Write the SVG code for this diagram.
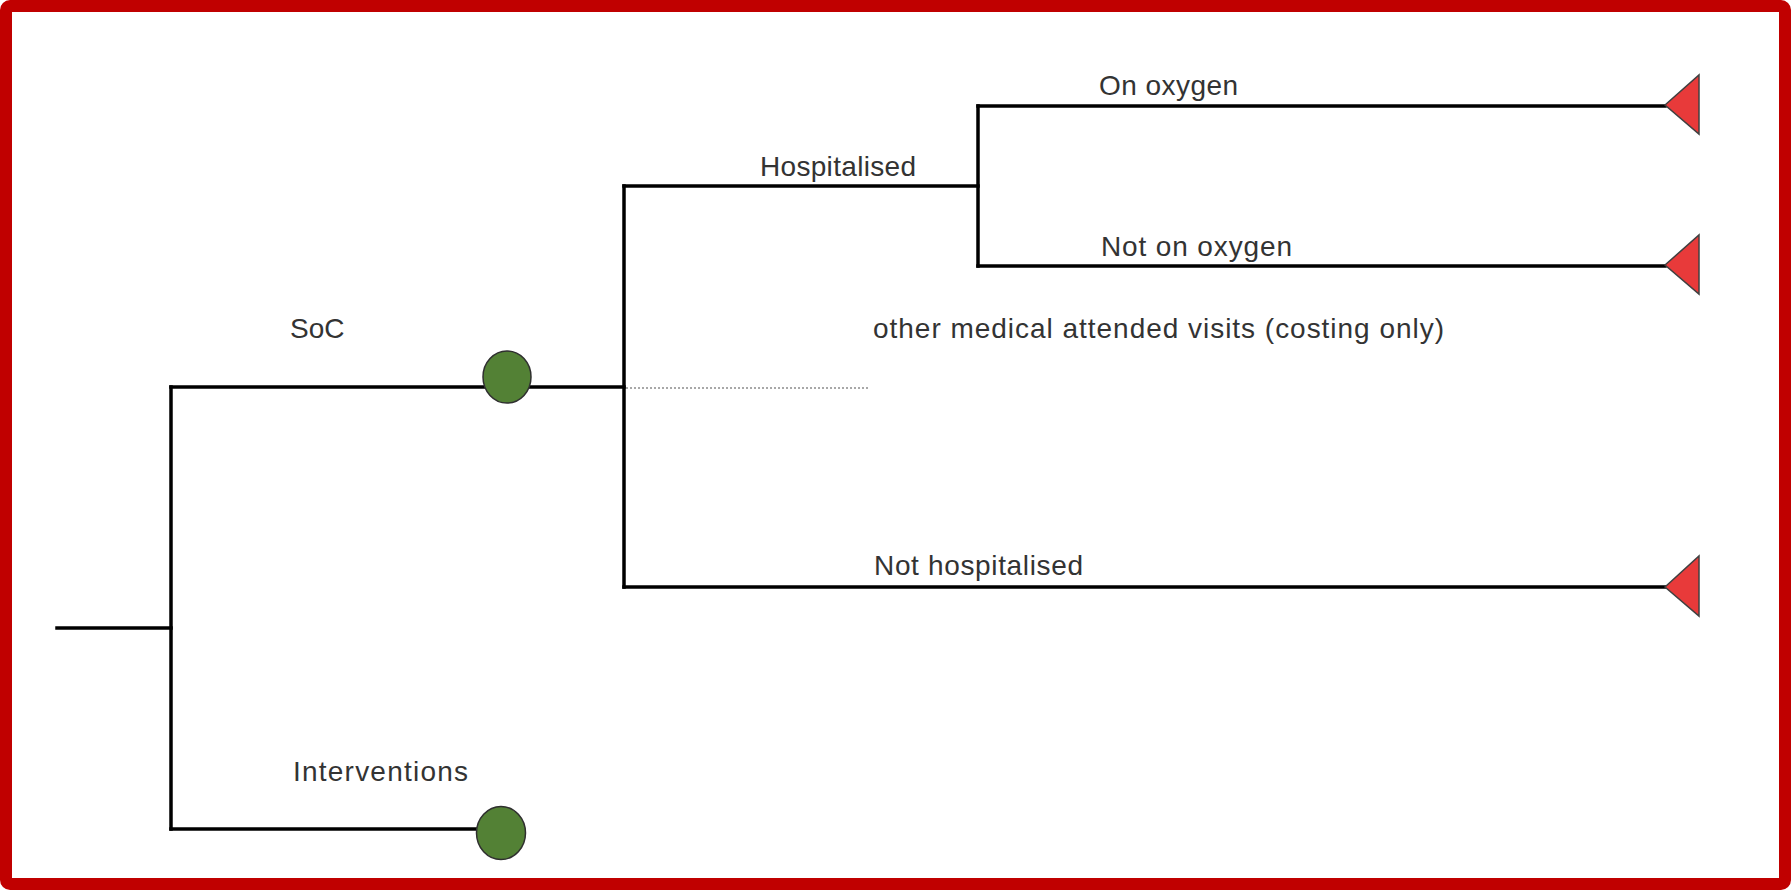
<svg xmlns="http://www.w3.org/2000/svg" width="1791" height="890" viewBox="0 0 1791 890">
<style>
.ln{stroke:#000;stroke-width:3.5;fill:none;stroke-linecap:square}
.dot{stroke:#8c8c8c;stroke-width:1.5;stroke-dasharray:2 2;fill:none}
.chance{fill:#538135;stroke:#2f2f2f;stroke-width:1.5}
.term{fill:#E83A3A;stroke:#404040;stroke-width:1.5;stroke-linejoin:miter}
.lbl{font-family:"Liberation Sans",Arial,sans-serif;font-size:28px;fill:#333}
</style>
<rect x="6" y="6" width="1779" height="878" rx="4" fill="#fff" stroke="#C00000" stroke-width="12"/>
<g id="connectors">
<path class="ln" d="M57 628H171"/>
<path class="ln" d="M171 387V829"/>
<path class="ln" d="M171 387H624"/>
<path class="ln" d="M171 829H478"/>
<path class="ln" d="M624 186V587"/>
<path class="ln" d="M624 186H978"/>
<path class="ln" d="M978 106V266"/>
<path class="ln" d="M978 106H1665"/>
<path class="ln" d="M978 266H1665"/>
<path class="ln" d="M624 587H1665"/>
<path class="dot" d="M626 388H868"/>
</g>
<g id="root"><text class="lbl" x="290" y="338">SoC</text></g>
<g id="soc-node"><ellipse class="chance" cx="507" cy="377" rx="24" ry="26"/></g>
<g id="interventions-node">
<text class="lbl" x="293" y="781" textLength="175">Interventions</text>
<ellipse class="chance" cx="501" cy="833" rx="24.5" ry="26.5"/>
</g>
<g id="hospitalised"><text class="lbl" x="760" y="176" textLength="156">Hospitalised</text></g>
<g id="on-oxygen">
<text class="lbl" x="1099" y="95" textLength="139">On oxygen</text>
<polygon class="term" points="1665,105 1699,75 1699,134"/>
</g>
<g id="not-on-oxygen">
<text class="lbl" x="1101" y="256" textLength="191">Not on oxygen</text>
<polygon class="term" points="1665,265 1699,235 1699,294"/>
</g>
<g id="other-visits"><text class="lbl" x="873" y="338" textLength="571">other medical attended visits (costing only)</text></g>
<g id="not-hospitalised">
<text class="lbl" x="874" y="575" textLength="209">Not hospitalised</text>
<polygon class="term" points="1665,587 1699,556 1699,616"/>
</g>
</svg>
